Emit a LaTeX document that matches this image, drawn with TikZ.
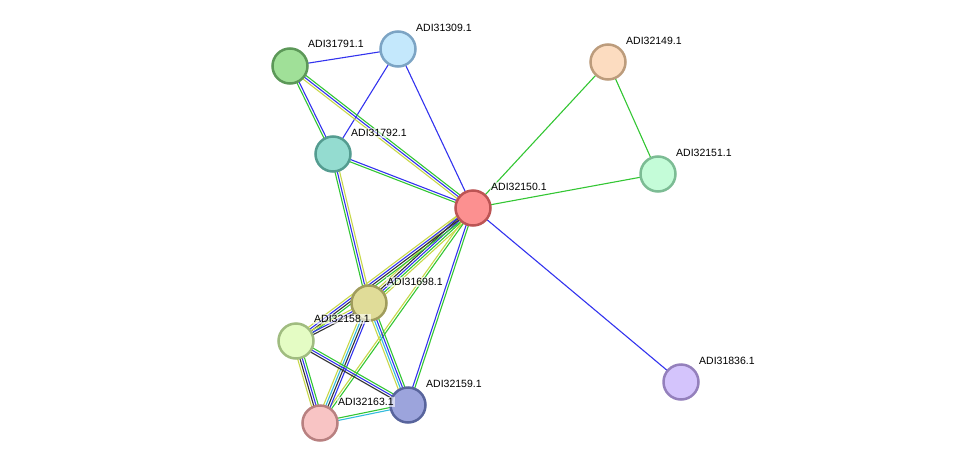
\documentclass[tikz,border=0pt]{standalone}
\usepackage{fontspec}
\setmainfont{Liberation Sans}
\usetikzlibrary{calc}
\definecolor{eg}{HTML}{33C633}
\definecolor{eb}{HTML}{3333EE}
\definecolor{ey}{HTML}{C8D84A}
\definecolor{ek}{HTML}{333333}
\definecolor{ec}{HTML}{33BBDD}
\newcommand\medge[4]{%
  \foreach \cc [count=\ii] in {#4} {
    \pgfmathsetmacro\oo{(\ii-1-(#3-1)/2)*2.3}
    \draw[\cc,line width=1.1pt] ($(#1)!\oo pt!90:(#2)$) -- ($(#2)!\oo pt!-90:(#1)$);
  }}
\tikzset{prot/.style={circle,minimum size=35pt,inner sep=0pt,line width=2.5pt},
  lab/.style={anchor=west,font=\fontsize{10.5pt}{11pt}\selectfont,inner sep=1pt,fill=white,fill opacity=0.6,text opacity=1}}
\begin{document}
\begin{tikzpicture}[x=1pt,y=-1pt]
\useasboundingbox (0,0) rectangle (975,469);
\coordinate (a) at (290,66);
\coordinate (b) at (398,49);
\coordinate (c) at (608,62);
\coordinate (d) at (333,154);
\coordinate (e) at (658,174);
\coordinate (f) at (473,208);
\coordinate (g) at (369,303);
\coordinate (h) at (296,341);
\coordinate (i) at (408,405);
\coordinate (j) at (320,423);
\coordinate (k) at (681,382);
\medge{a}{b}{1}{eb}
\medge{b}{d}{1}{eb}
\medge{b}{f}{1}{eb}
\medge{a}{d}{2}{eg,eb}
\medge{a}{f}{3}{ey,eb,eg}
\medge{d}{f}{2}{eg,eb}
\medge{d}{g}{3}{eg,eb,ey}
\medge{c}{f}{1}{eg}
\medge{c}{e}{1}{eg}
\medge{e}{f}{1}{eg}
\medge{f}{k}{1}{eb}
\medge{f}{g}{5}{ey,ek,eb,eg,ey}
\medge{f}{h}{4}{ey,eb,ek,eg}
\medge{f}{j}{2}{ey,eg}
\medge{f}{i}{2}{eb,eg}
\medge{g}{h}{3}{ey,eb,ek}
\medge{g}{j}{4}{ey,ec,ek,eb}
\medge{g}{i}{4}{ey,ec,eb,eg}
\medge{h}{j}{4}{ey,ek,eb,eg}
\medge{h}{i}{3}{ek,eb,eg}
\medge{j}{i}{2}{ec,eg}
\node[prot,fill={rgb,255:red,160;green,224;blue,152},draw={rgb,255:red,92;green,152;blue,88}] (n1) at (a) {};
\node[prot,fill={rgb,255:red,196;green,232;blue,252},draw={rgb,255:red,124;green,164;blue,196}] (n2) at (b) {};
\node[prot,fill={rgb,255:red,252;green,220;blue,192},draw={rgb,255:red,188;green,156;blue,124}] (n3) at (c) {};
\node[prot,fill={rgb,255:red,148;green,220;blue,208},draw={rgb,255:red,84;green,156;blue,144}] (n4) at (d) {};
\node[prot,fill={rgb,255:red,196;green,252;blue,216},draw={rgb,255:red,124;green,188;blue,148}] (n5) at (e) {};
\node[prot,fill={rgb,255:red,252;green,144;blue,144},draw={rgb,255:red,188;green,84;blue,84}] (n6) at (f) {};
\node[prot,fill={rgb,255:red,224;green,220;blue,152},draw={rgb,255:red,160;green,156;blue,92}] (n7) at (g) {};
\node[prot,fill={rgb,255:red,228;green,252;blue,196},draw={rgb,255:red,160;green,188;blue,128}] (n8) at (h) {};
\node[prot,fill={rgb,255:red,156;green,164;blue,220},draw={rgb,255:red,88;green,100;blue,156}] (n9) at (i) {};
\node[prot,fill={rgb,255:red,248;green,196;blue,196},draw={rgb,255:red,184;green,128;blue,128}] (n10) at (j) {};
\node[prot,fill={rgb,255:red,212;green,196;blue,252},draw={rgb,255:red,148;green,128;blue,188}] (n11) at (k) {};
\node[lab] (l1) at ($(a)+(17,-22)$) {ADI31791.1};
\node[lab] (l2) at ($(b)+(17,-21)$) {ADI31309.1};
\node[lab] (l3) at ($(c)+(17,-21)$) {ADI32149.1};
\node[lab] (l4) at ($(d)+(17,-21)$) {ADI31792.1};
\node[lab] (l5) at ($(e)+(17,-21)$) {ADI32151.1};
\node[lab] (l6) at ($(f)+(17,-21)$) {ADI32150.1};
\node[lab] (l7) at ($(g)+(17,-21)$) {ADI31698.1};
\node[lab] (l8) at ($(h)+(17,-22)$) {ADI32158.1};
\node[lab] (l9) at ($(i)+(17,-21)$) {ADI32159.1};
\node[lab] (l10) at ($(j)+(17,-21)$) {ADI32163.1};
\node[lab] (l11) at ($(k)+(17,-21)$) {ADI31836.1};
\end{tikzpicture}
\end{document}
